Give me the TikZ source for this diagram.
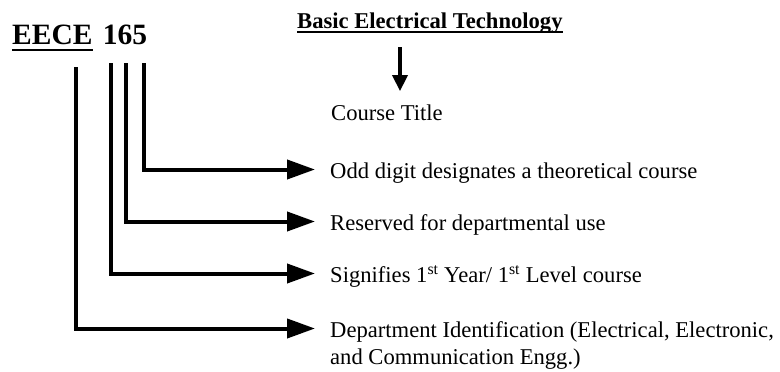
\documentclass[tikz,border=0pt]{standalone}
\usepackage{fontspec}
\setmainfont{Liberation Serif}
\usetikzlibrary{positioning,arrows.meta}
\tikzset{
  lbl/.style={font=\fontsize{22.6}{27}\selectfont, inner sep=0pt, anchor=base west},
  code/.style={font=\fontsize{29.5}{34}\selectfont\bfseries, inner sep=0pt},
  conn/.style={line width=4pt, -{Triangle[length=28pt,width=19pt]}},
  dnarrow/.style={line width=3.5pt, -{Triangle[length=16pt,width=15pt]}},
  uline/.style={line width=2pt},
}
\begin{document}
\begin{tikzpicture}[x=1pt,y=-1pt]
  \useasboundingbox (0,0) rectangle (780,372);
  % course code
  \node[code,anchor=base west] (dept) at (12,45) {EECE};
  \node[code,right=10pt of dept] (num) {165};
  \draw[uline] ([yshift=-5pt]dept.base west) -- ([yshift=-5pt]dept.base east);
  % course title
  \node[lbl,font=\fontsize{22.6}{27}\selectfont\bfseries] (basic) at (297,28) {Basic Electrical Technology};
  \draw[uline] ([yshift=-4pt]basic.base west) -- ([yshift=-4pt]basic.base east);
  \node[lbl] (title) at (331,120) {Course Title};
  \coordinate (dnTop) at (400,47);
  \draw[dnarrow,shorten >=13pt] (dnTop) -- (dnTop |- title.north);
  % meanings of the digits
  \node[lbl] (oddTxt) at (330,178) {Odd digit designates a theoretical course};
  \node[lbl] (resTxt) at (330,230) {Reserved for departmental use};
  \node[lbl] (levTxt) at (330,282) {Signifies 1\textsuperscript{st} Year/ 1\textsuperscript{st} Level course};
  \node[lbl] (depTxt) at (330,337) {Department Identification (Electrical, Electronic,};
  \node[lbl] (depTxtB) at ([yshift=-27pt]depTxt.base west) {and Communication Engg.)};
  % start points below the code
  \coordinate (cD) at (76,67);
  \coordinate (cY) at (111,63);
  \coordinate (cR) at (126,63);
  \coordinate (cT) at (144,63);
  \draw[conn] (cT) |- ([xshift=-15pt,yshift=8.5pt]oddTxt.base west);
  \draw[conn] (cR) |- ([xshift=-15pt,yshift=8.5pt]resTxt.base west);
  \draw[conn] (cY) |- ([xshift=-15pt,yshift=8.5pt]levTxt.base west);
  \draw[conn] (cD) |- ([xshift=-15pt,yshift=8.5pt]depTxt.base west);
\end{tikzpicture}
\end{document}
